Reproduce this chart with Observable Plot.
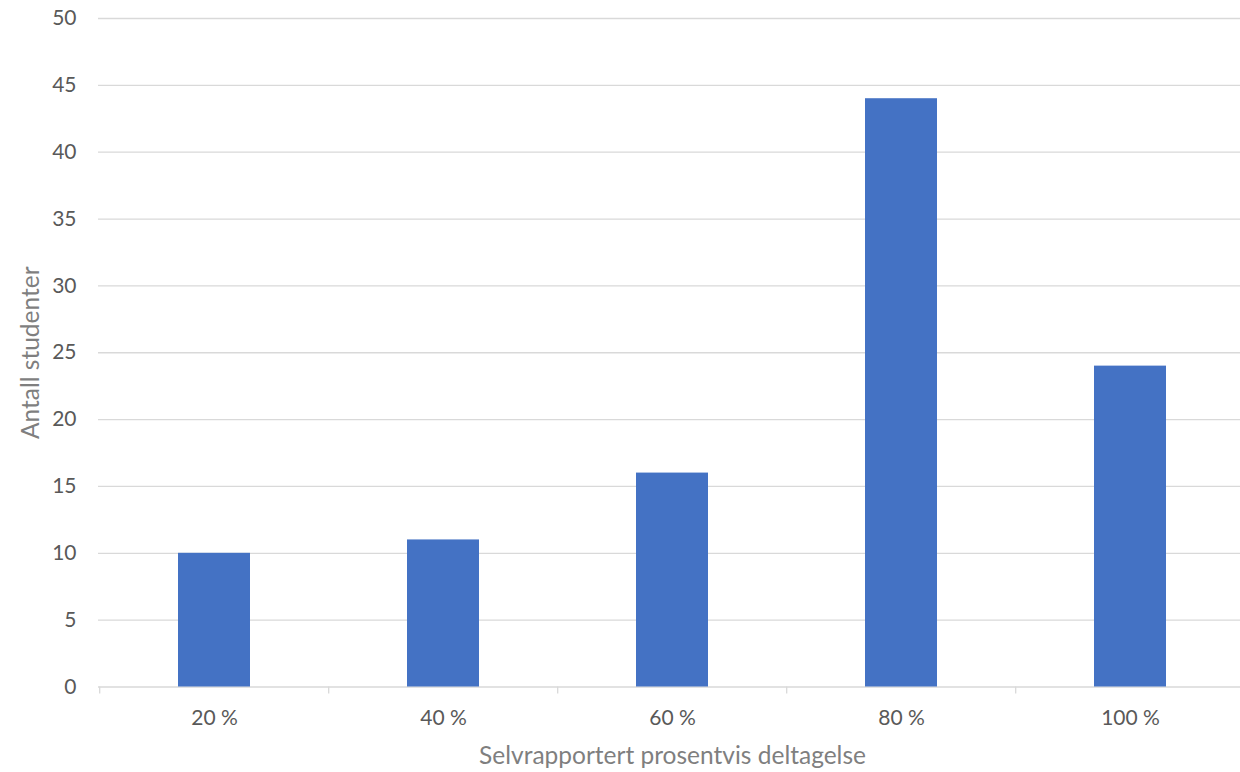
<!DOCTYPE html>
<html>
<head>
<meta charset="utf-8">
<script src="https://cdn.jsdelivr.net/npm/d3@7"></script>
<script src="https://cdn.jsdelivr.net/npm/@observablehq/plot@0.6"></script>
<style>
  html, body { margin: 0; padding: 0; background: #fff; overflow: hidden; }
  #chart { width: 1240px; height: 772px; overflow: hidden; }
</style>
</head>
<body>
<div id="chart"></div>
<script>
const categories = ["20 %", "40 %", "60 %", "80 %", "100 %"];
const counts = [10, 11, 16, 44, 24];
const yTicks = [0, 5, 10, 15, 20, 25, 30, 35, 40, 45, 50];
const xTitle = "Selvrapportert prosentvis deltagelse";
const yTitle = "Antall studenter";

const data = categories.map((c, i) => ({category: c, count: counts[i]}));

const W = 1246, H = 772, ML = 98, MR = 0, MT = 18, MB = 85.5;
const step = (W - ML - MR) / categories.length;

const chart = Plot.plot({
  width: W,
  height: H,
  marginLeft: ML,
  marginRight: MR,
  marginTop: MT,
  marginBottom: MB,
  style: {fontFamily: "Lato, 'Open Sans', sans-serif", fontSize: "21px", color: "#595959", background: "#fff", overflow: "visible", maxWidth: "none"},
  x: {domain: categories, paddingInner: 0.686, paddingOuter: 0.343, align: 0.5, tickSize: 0, tickPadding: 23, label: null},
  y: {domain: [0, 50], ticks: yTicks, tickSize: 0, tickPadding: 22, label: null, tickFormat: d => String(d)},
  marks: [
    Plot.ruleY(yTicks, {stroke: "#d9d9d9", strokeWidth: 1.3}),
    Plot.ruleX(categories, {x: d => d, y1: 0, y2: 0, insetBottom: -7, dx: -step / 2, stroke: "#d9d9d9", strokeWidth: 1.3}),
    Plot.barY(data, {x: "category", y: "count", fill: "#4472C4"}),
    Plot.text([xTitle], {frameAnchor: "bottom", lineAnchor: "middle", dy: 69.5, fontSize: 24.5, fill: "#7f7f7f"}),
    Plot.text([yTitle], {frameAnchor: "left", textAnchor: "middle", lineAnchor: "middle", rotate: -90, dx: -67, fontSize: 24.5, fill: "#7f7f7f"})
  ]
});
document.getElementById("chart").appendChild(chart);
</script>
</body>
</html>
